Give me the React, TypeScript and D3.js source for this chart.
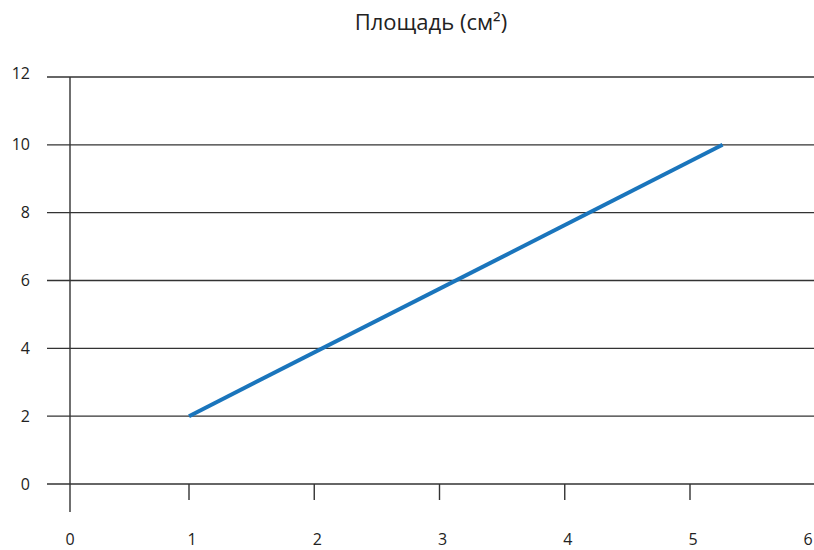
import React from "react";
import * as d3 from "d3";

const title = "Площадь (см²)";
const xTicks = [1, 2, 3, 4, 5];
const xLabels = ["0", "1", "2", "3", "4", "5", "6"];
const yTicks = [0, 2, 4, 6, 8, 10, 12];
const lineX = [1, 5.26];
const lineY = [2, 10];

const W = 814;
const H = 550;

export default function App() {
  const x = d3.scaleLinear().domain([1, 5]).range([189, 690]);
  const y = d3.scaleLinear().domain([0, 12]).range([484, 77]);
  const axisX = 70;
  const pts: [number, number][] = lineX.map((v, i) => [v, lineY[i]]);
  const line = d3
    .line<[number, number]>()
    .x((d) => x(d[0]))
    .y((d) => y(d[1]));
  const font = "'Open Sans', 'Noto Sans', sans-serif";
  const labelX = (v: string) =>
    v === "0" ? axisX : Math.min(x(+v) + 3, W - 6);
  return (
    <svg
      width={W}
      height={H}
      style={{ position: "absolute", left: 0, top: 0, background: "#fff" }}
    >
      <text x={431} y={30} textAnchor="middle" fontFamily={font} fontSize={22} fill="#222">
        {title}
      </text>
      {yTicks.map((t) => (
        <g key={t}>
          <line x1={47} x2={814} y1={y(t)} y2={y(t)} stroke="#333" strokeWidth={1.4} />
          <text
            x={30}
            y={y(t) - (t === 12 ? 4 : 0)}
            dy="0.35em"
            textAnchor="end"
            fontFamily={font}
            fontSize={16}
            fill="#222"
          >
            {t}
          </text>
        </g>
      ))}
      <line x1={axisX} x2={axisX} y1={77} y2={512} stroke="#333" strokeWidth={1.4} />
      {xTicks.map((t) => (
        <line key={t} x1={x(t)} x2={x(t)} y1={484} y2={500} stroke="#333" strokeWidth={1.4} />
      ))}
      {xLabels.map((l) => (
        <text
          key={l}
          x={labelX(l)}
          y={545}
          textAnchor="middle"
          fontFamily={font}
          fontSize={16}
          fill="#222"
        >
          {l}
        </text>
      ))}
      <path d={line(pts) || ""} fill="none" stroke="#1a75bc" strokeWidth={4} />
    </svg>
  );
}
